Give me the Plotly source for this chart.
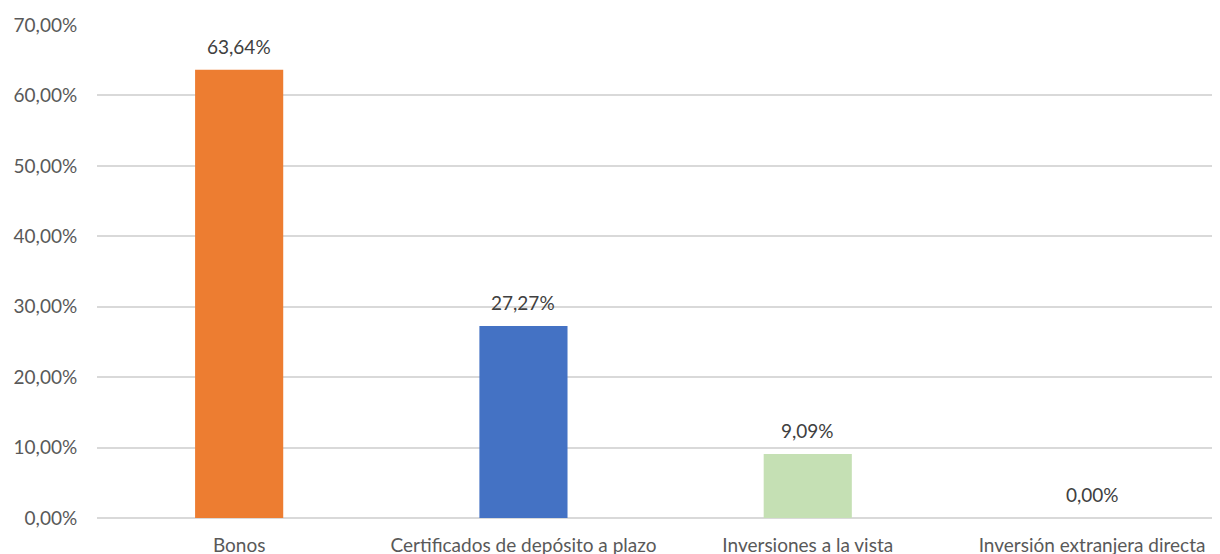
import plotly.graph_objects as go

categories = ["Bonos", "Certificados de depósito a plazo", "Inversiones a la vista", "Inversión extranjera directa"]
values = [63.64, 27.27, 9.09, 0.00]
colors = ["#ED7D31", "#4472C4", "#C5E0B4", "#A5A5A5"]
y_ticks = [0, 10, 20, 30, 40, 50, 60, 70]
y_tick_labels = [f"{v:.2f}%".replace(".", ",") for v in y_ticks]

FONT = "Lato"

fig = go.Figure(go.Bar(
    x=categories,
    y=values,
    marker=dict(color=colors, line=dict(width=0)),
    width=0.31,
    cliponaxis=False,
))

for c, v in zip(categories, values):
    fig.add_annotation(
        x=c, y=v, xref="x", yref="y",
        text=f"{v:.2f}%".replace(".", ","),
        showarrow=False,
        yanchor="bottom",
        yshift=10,
        font=dict(family=FONT, size=19, color="#404040"),
    )

fig.update_layout(
    width=1220,
    height=554,
    margin=dict(l=89, r=8, t=17, b=44, autoexpand=False),
    paper_bgcolor="white",
    plot_bgcolor="white",
    showlegend=False,
    font=dict(family=FONT, color="#595959"),
)
fig.update_xaxes(
    range=[-0.5, 3.45],
    automargin=False,
    showgrid=False,
    showline=False,
    ticks="outside",
    ticklen=10,
    tickcolor="rgba(0,0,0,0)",
    tickfont=dict(family=FONT, size=19, color="#595959"),
    fixedrange=True,
)
fig.update_yaxes(
    range=[0, 70],
    automargin=False,
    tickmode="array",
    tickvals=y_ticks,
    ticktext=y_tick_labels,
    showgrid=True,
    gridcolor="#D9D9D9",
    gridwidth=1.5,
    zeroline=True,
    zerolinecolor="#D9D9D9",
    zerolinewidth=1.5,
    ticks="outside",
    ticklen=15,
    tickcolor="rgba(0,0,0,0)",
    tickfont=dict(family=FONT, size=19, color="#595959"),
    fixedrange=True,
)

fig.write_html("out.html")
